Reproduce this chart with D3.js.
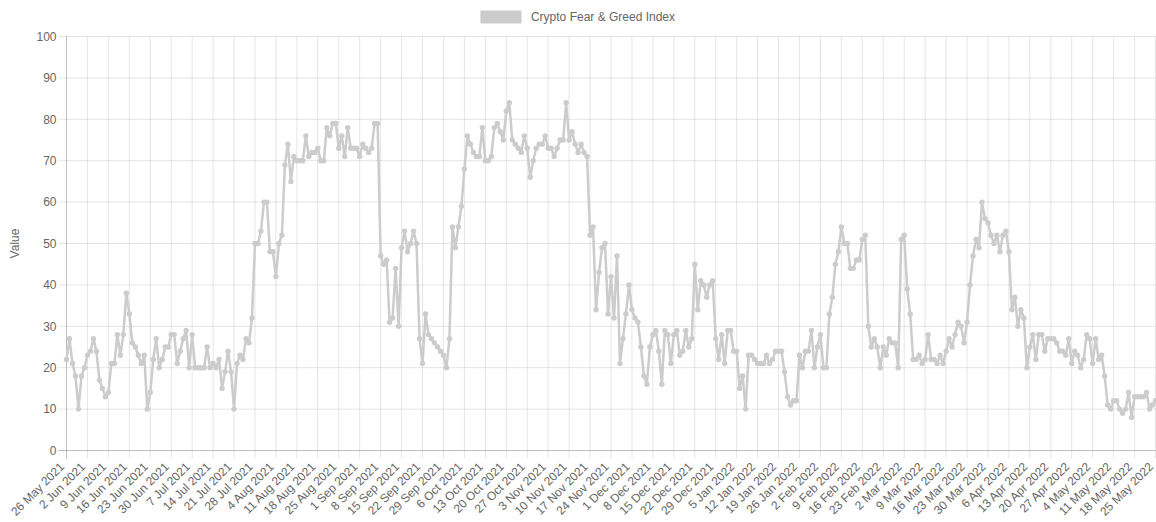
<!DOCTYPE html>
<html>
<head>
<meta charset="utf-8">
<script src="https://cdn.jsdelivr.net/npm/d3@7"></script>
<style>
  body { margin: 0; background: #fff; }
  svg { display: block; font-family: "Liberation Sans", Arial, Helvetica, sans-serif; }
</style>
</head>
<body>
<svg width="1156" height="522"></svg>
<script>
const seriesName = "Crypto Fear & Greed Index";
const yTitle = "Value";
const startDate = "2021-05-26";

// one value per day, 26 May 2021 .. 25 May 2022
const values = [
  22,27,21,18,10,18,20,23,24,27, 24,17,15,13,14,21,21,28,23,28,
  38,33,26,25,23,21,23,10,14,22, 27,20,22,25,25,28,28,21,24,27,
  29,20,28,20,20,20,20,25,20,21, 20,22,15,19,24,19,10,21,23,22,
  27,26,32,50,50,53,60,60,48,48, 42,50,52,69,74,65,71,70,70,70,
  76,71,72,72,73,70,70,78,76,79, 79,73,76,71,78,73,73,73,71,74,
  73,72,73,79,79,
  47,45,46,31,32,44,30,49,53,48, 50,53,50,27,21,33,28,27,26,25,
  24,23,20,27,54,49,54,59,68,76, 74,72,71,71,78,70,70,71,78,79,
  77,75,82,84,75,74,73,72,76,73, 66,70,73,74,74,76,73,73,71,73,
  75,75,84,75,77,74,72,74,72,71, 52,54,34,43,49,50,33,42,32,47,
  21,27,33,40,34,32,31,25,18,16, 25,28,29,24,16,29,28,21,28,29,
  23,24,29,25,27,45,34,41,40,37, 40,41,27,22,28,21,29,29,24,24,
  15,18,10,23,23,22,21,21,21,23, 21,22,24,24,24,19,13,11,12,12,
  23,20,24,24,29,20,25,28,20,20, 33,37,45,48,54,50,50,44,44,46,
  46,51,52,30,25,27,25,20,25,23, 27,26,26,20,51,52,39,33,22,22,
  23,21,22,28,22,22,21,23,21,24, 27,25,28,31,30,26,31,40,47,51,
  49,60,56,55,52,50,52,48,52,53, 48,34,37,30,34,32,20,25,28,22,
  28,28,24,27,27,27,26,24,24,23, 27,21,24,23,20,22,28,27,21,27,
  22,23,18,11,10,12,12,10,9,10, 14,8,13,13,13,13,14,10,11,12
];

const yTicks = [0, 10, 20, 30, 40, 50, 60, 70, 80, 90, 100];
const labelEvery = 7;

const start = d3.utcParse("%Y-%m-%d")(startDate);
const dates = d3.utcDay.range(start, d3.utcDay.offset(start, values.length));
const fmt = d3.utcFormat("%-d %b %Y");
const labels = dates.map(fmt);
const tickLabels = labels.filter((d, i) => i % labelEvery === 0);

const lineColor = "#cccccc";
const gridColor = "rgba(0,0,0,0.1)";
const zeroColor = "rgba(0,0,0,0.25)";
const textColor = "#666";

const plotLeft = 66.5, plotRight = 1155.5, plotTop = 36.5, plotBottom = 450.5;

const svg = d3.select("svg");

const x = d3.scalePoint().domain(labels).range([plotLeft, plotRight]);
const y = d3.scaleLinear().domain([0, 100]).range([plotBottom, plotTop]);

// horizontal grid
svg.append("g")
  .selectAll("line")
  .data(yTicks)
  .join("line")
  .attr("x1", plotLeft - 8)
  .attr("x2", plotRight)
  .attr("y1", d => y(d))
  .attr("y2", d => y(d))
  .attr("stroke", d => d === 0 ? zeroColor : gridColor);

// vertical grid
svg.append("g")
  .selectAll("line")
  .data(tickLabels)
  .join("line")
  .attr("x1", d => x(d))
  .attr("x2", d => x(d))
  .attr("y1", plotTop)
  .attr("y2", plotBottom + 8)
  .attr("stroke", (d, i) => i === 0 ? zeroColor : gridColor);

// y axis labels
const gy = svg.append("g")
  .attr("transform", `translate(${plotLeft}, 0)`)
  .call(d3.axisLeft(y).tickValues(yTicks).tickSize(0).tickPadding(10));
gy.select(".domain").remove();
gy.selectAll("text")
  .attr("fill", textColor)
  .style("font-size", "12px");

// x axis labels
const gx = svg.append("g")
  .attr("transform", `translate(0, ${plotBottom})`)
  .call(d3.axisBottom(x).tickValues(tickLabels).tickSize(0));
gx.select(".domain").remove();
gx.selectAll("text")
  .attr("x", 0)
  .attr("y", 0)
  .attr("dy", "0.35em")
  .attr("text-anchor", "end")
  .attr("transform", "translate(-5, 14) rotate(-45)")
  .attr("fill", textColor)
  .style("font-size", "12px");

// y title
svg.append("text")
  .attr("transform", `translate(19, ${(plotTop + plotBottom) / 2}) rotate(-90)`)
  .attr("text-anchor", "middle")
  .attr("fill", textColor)
  .style("font-size", "12px")
  .text(yTitle);

// line + points
const line = d3.line()
  .x((d, i) => x(labels[i]))
  .y(d => y(d));

svg.append("path")
  .datum(values)
  .attr("d", line)
  .attr("fill", "none")
  .attr("stroke", lineColor)
  .attr("stroke-width", 2.5)
  .attr("stroke-linejoin", "round");

svg.append("g")
  .selectAll("circle")
  .data(values)
  .join("circle")
  .attr("cx", (d, i) => x(labels[i]))
  .attr("cy", d => y(d))
  .attr("r", 2.7)
  .attr("fill", lineColor);

// legend
const legend = svg.append("g");
const legendText = legend.append("text")
  .attr("y", 17)
  .attr("dy", "0.35em")
  .attr("fill", textColor)
  .style("font-size", "12px")
  .text(seriesName);
const tw = legendText.node().getComputedTextLength();
const lx = 1156 / 2 - (40 + 10 + tw) / 2;
legend.append("rect")
  .attr("x", lx)
  .attr("y", 11)
  .attr("width", 40)
  .attr("height", 12)
  .attr("fill", lineColor)
  .attr("stroke", lineColor);
legendText.attr("x", lx + 50);
</script>
</body>
</html>
